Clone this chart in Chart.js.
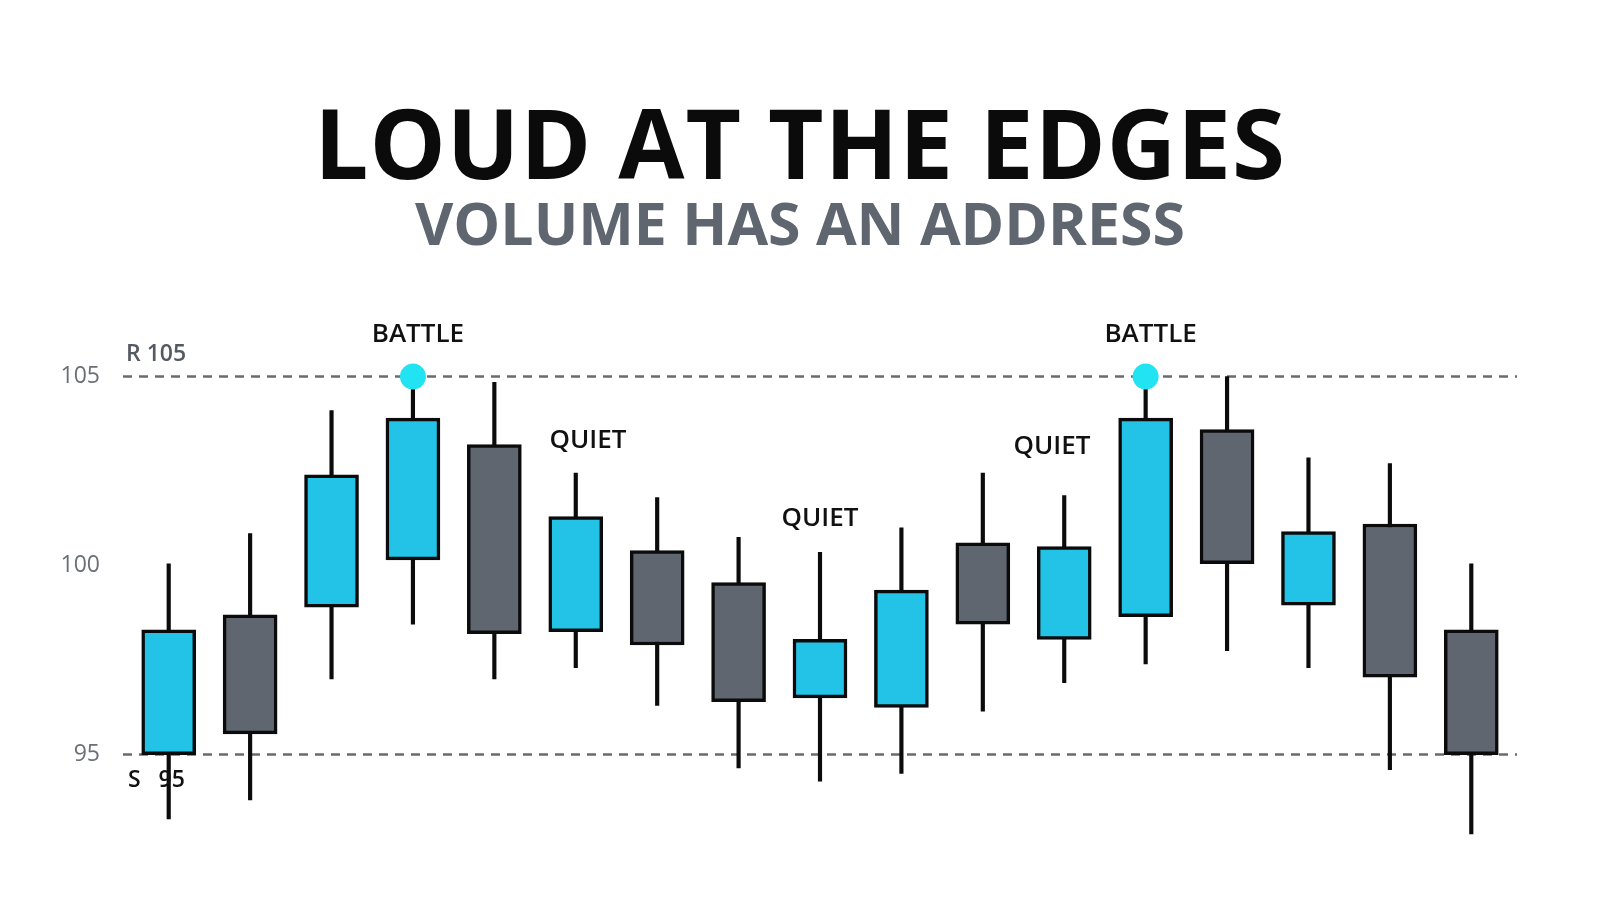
<!DOCTYPE html>
<html>
<head>
<meta charset="utf-8">
<script src="https://cdn.jsdelivr.net/npm/chart.js@4"></script>
<style>
    html, body { margin: 0; padding: 0; background: #ffffff; }
    #wrap { position: relative; width: 1600px; height: 914px; }
    #title, #subtitle {
        position: absolute; left: 0; width: 1600px; text-align: center;
        font-family: 'Open Sans', sans-serif; font-weight: 700;
    }
    #title { top: 76px; font-size: 96px; color: #0b0b0b; letter-spacing: 1px; }
    #subtitle { top: 182px; font-size: 59px; color: #5f6670; }
</style>
</head>
<body>
<div id="wrap">
    <div id="title">LOUD AT THE EDGES</div>
    <div id="subtitle">VOLUME HAS AN ADDRESS</div>
    <canvas id="chart" width="1600" height="914"></canvas>
</div>
<script>
const labels = ['1', '2', '3', '4', '5', '6', '7', '8', '9', '10', '11', '12', '13', '14', '15', '16', '17'];
const opens  = [95.0, 98.7, 98.9, 100.15, 103.2, 98.25, 100.4, 99.55, 96.5, 96.25, 100.6, 98.05, 98.65, 103.6, 98.95, 101.1, 98.3];
const closes = [98.3, 95.55, 102.4, 103.9, 98.2, 101.3, 97.9, 96.4, 98.05, 99.35, 98.45, 100.5, 103.9, 100.05, 100.9, 97.05, 95.0];
const highs  = [100.05, 100.85, 104.1, 105.0, 104.85, 102.45, 101.8, 100.75, 100.35, 101.0, 102.45, 101.85, 104.7, 105.0, 102.85, 102.7, 100.05];
const lows   = [93.3, 93.8, 97.0, 98.45, 97.0, 97.3, 96.3, 94.65, 94.3, 94.5, 96.15, 96.9, 97.4, 97.75, 97.3, 94.6, 92.9];
const yTicks = [95, 100, 105];
const resistance = 105;
const support = 95;
const battleIdx = [3, 12];
// x is a category position (fractional = between candles)
const quietNotes = [
    { x: 5.15, y: 103.3 },
    { x: 8.0, y: 101.25 },
    { x: 10.85, y: 103.15 },
];

const colors = { up: '#22c3e6', down: '#60666f', dot: '#22e3f2', line: '#6b6b6b', text: '#111111' };

const bodies = opens.map((o, i) => [o, closes[i]]);
const wicks = lows.map((l, i) => [l, highs[i]]);
const bodyColors = opens.map((o, i) => (closes[i] >= o ? colors.up : colors.down));
const dots = labels.map((_, i) => (battleIdx.includes(i) ? resistance : null));

const levelsPlugin = {
    id: 'levels',
    beforeDatasetsDraw(chart) {
        const { ctx, chartArea, scales } = chart;
        ctx.save();
        ctx.strokeStyle = colors.line;
        ctx.lineWidth = 2.5;
        ctx.setLineDash([9, 7]);
        [resistance, support].forEach((v) => {
            const y = scales.y.getPixelForValue(v);
            ctx.beginPath();
            ctx.moveTo(chartArea.left - 5, y);
            ctx.lineTo(chartArea.right + 5, y);
            ctx.stroke();
        });
        ctx.restore();
    },
    afterDatasetsDraw(chart) {
        const { ctx, scales } = chart;
        const step = scales.x.getPixelForValue(1) - scales.x.getPixelForValue(0);
        ctx.save();
        ctx.font = '600 26px "Open Sans", sans-serif';
        ctx.textAlign = 'center';
        ctx.textBaseline = 'middle';
        ctx.fillStyle = colors.text;
        battleIdx.forEach((i) => {
            ctx.fillText('BATTLE', scales.x.getPixelForValue(i) + 5, scales.y.getPixelForValue(resistance) - 42);
        });
        quietNotes.forEach((q) => {
            const base = Math.floor(q.x);
            const px = scales.x.getPixelForValue(base) + (q.x - base) * step;
            ctx.fillText('QUIET', px, scales.y.getPixelForValue(q.y));
        });
        ctx.textAlign = 'left';
        ctx.fillStyle = '#555a62';
        ctx.font = '600 23px "Open Sans", sans-serif';
        ctx.fillText('R 105', 126, scales.y.getPixelForValue(resistance) - 22);
        ctx.fillStyle = colors.text;
        ctx.fillText('S   95', 128, scales.y.getPixelForValue(support) + 26);
        ctx.restore();
    },
};

new Chart(document.getElementById('chart'), {
    type: 'bar',
    data: {
        labels,
        datasets: [
            {
                type: 'line',
                data: dots,
                showLine: false,
                pointRadius: 13,
                pointBackgroundColor: colors.dot,
                pointBorderWidth: 0,
                order: 0,
            },
            {
                data: bodies,
                backgroundColor: bodyColors,
                borderColor: '#0b0b0b',
                borderWidth: 3.5,
                borderSkipped: false,
                barThickness: 54,
                grouped: false,
                order: 1,
            },
            {
                data: wicks,
                backgroundColor: '#0b0b0b',
                barThickness: 3.5,
                grouped: false,
                order: 2,
            },
        ],
    },
    options: {
        responsive: false,
        animation: false,
        layout: { padding: { top: 301, bottom: 46, left: 0, right: 88 } },
        plugins: { legend: { display: false }, tooltip: { enabled: false } },
        scales: {
            x: { display: false },
            y: {
                min: 92,
                max: 107,
                afterFit(scale) { scale.width = 128; },
                afterBuildTicks(scale) { scale.ticks = yTicks.map((v) => ({ value: v })); },
                grid: { display: false },
                border: { display: false },
                ticks: {
                    color: '#6b6f76',
                    padding: 20,
                    font: { family: '"Open Sans", sans-serif', size: 23 },
                },
            },
        },
    },
    plugins: [levelsPlugin],
});
</script>
</body>
</html>
